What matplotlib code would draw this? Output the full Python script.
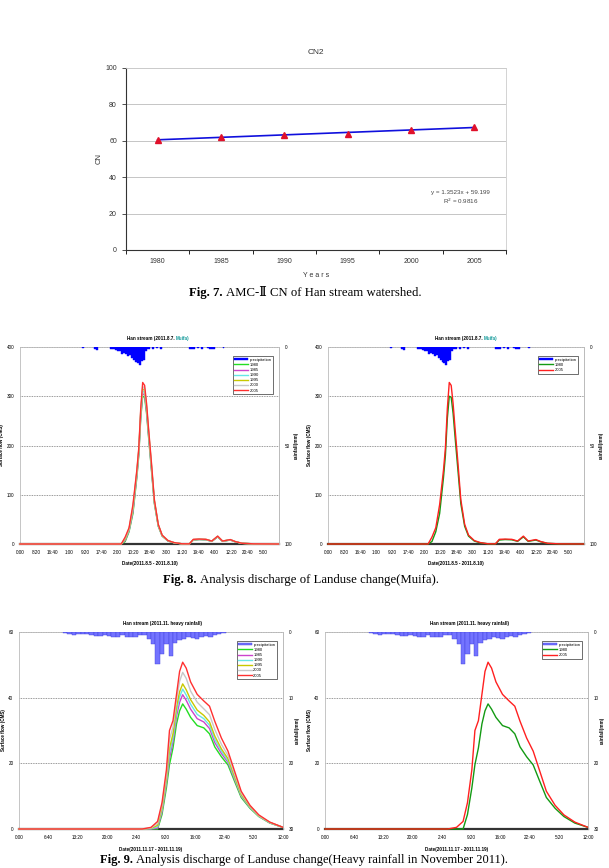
import numpy as np
import matplotlib.pyplot as plt

W, H = 609, 868

# ---- Fig. 7 : CN2 trend ----
cn_years = ["1980", "1985", "1990", "1995", "2000", "2005"]
cn_values = [60.5, 62.0, 63.3, 63.8, 66.0, 67.6]
trend_slope, trend_icpt = 1.3523, 59.199
trend_r2 = 0.9816

# ---- Fig. 8 : Muifa event (hours from 2011.8.5 0:00) ----
muifa_hours = [0, 50, 52, 54, 56, 58, 60, 61, 62, 63, 64, 65, 66, 67.5, 69, 71, 73, 76,
               79, 83, 87, 89, 92, 95.5, 98.5, 101.5, 104, 108, 110.5, 114, 120, 133]
muifa_q = {
    "1980": [0, 0, 0, 5, 25, 62, 135, 180, 255, 300, 298, 265, 218, 150, 82, 36, 16, 6,
             2.5, 0.4, 0.2, 8, 9, 8.5, 5.4, 14.5, 5.4, 8, 4.5, 1.3, 0.3, 0],
    "1985": [0, 0, 0, 7, 27, 66, 139, 184, 260, 305, 303, 270, 222, 153, 84, 37, 16.5, 6.2,
             2.6, 0.4, 0.2, 8.3, 9.2, 8.7, 5.5, 14.8, 5.5, 8.2, 4.6, 1.35, 0.3, 0],
    "1990": [0, 0, 0, 9, 28, 70, 142, 187, 264, 310, 308, 274, 226, 156, 86, 38, 17, 6.5,
             2.7, 0.4, 0.2, 8.6, 9.4, 9.0, 5.7, 15.2, 5.7, 8.5, 4.7, 1.4, 0.3, 0],
    "1995": [0, 0, 0, 10, 30, 73, 145, 190, 268, 315, 312, 277, 229, 159, 87, 38.5, 17.3, 6.7,
             2.8, 0.5, 0.3, 8.8, 9.6, 9.2, 5.8, 15.5, 5.8, 8.7, 4.8, 1.45, 0.3, 0],
    "2000": [0, 0, 0, 12, 31, 76, 147, 192, 271, 320, 316, 280, 232, 162, 88, 39, 17.6, 6.8,
             2.9, 0.5, 0.3, 9.0, 9.8, 9.3, 5.9, 15.7, 5.9, 8.8, 4.9, 1.5, 0.3, 0],
    "2005": [0, 0, 0, 14, 33, 80, 150, 195, 275, 328, 322, 285, 235, 165, 90, 40, 18, 7,
             3, 0.5, 0.3, 9.5, 10, 9.5, 6, 16, 6, 9, 5, 1.5, 0.3, 0],
}
muifa_rain_hours = [32, 38, 39, 46, 47, 48, 49, 50, 51, 52, 53, 54, 55, 56, 57, 58, 59, 60,
                    61, 62, 63, 64, 65, 66, 68, 70, 72, 87, 88, 89, 91, 93, 96, 97, 98, 99, 104]
muifa_rain_mm = [0.4, 1.2, 1.5, 0.8, 1.2, 1.0, 1.5, 2.0, 2.2, 3.5, 3.0, 3.8, 4.5, 4.2, 5.5, 6.5,
                 7.5, 8.0, 9.3, 7.0, 6.5, 2.0, 1.0, 0.8, 1.0, 0.6, 0.8, 0.8, 0.8, 0.8, 0.5, 1.0,
                 0.6, 1.0, 1.2, 1.0, 0.6]
muifa_ticks = ["0:00", "8:20", "16:40", "1:00", "9:20", "17:40", "2:00", "10:20", "18:40",
               "3:00", "11:20", "19:40", "4:00", "12:20", "20:40", "5:00"]

# ---- Fig. 9 : November heavy rainfall (hours from 2011.11.17 0:00) ----
nov_hours = [0, 28, 30, 31.5, 32.5, 33.5, 34.2, 35, 35.8, 36.5, 37.2, 38, 39, 40.5, 42,
             43.3, 44.5, 46, 47.5, 49, 50.5, 52.5, 54.5, 57, 60]
nov_q = {
    "1980": [0, 0, 0, 0, 4.4, 12.5, 19.6, 24.7, 32, 36, 38.1, 36.5, 34, 31.5, 30.8, 29, 25,
             22, 19.5, 14.5, 9.6, 6.3, 3.8, 1.8, 0.5],
    "1985": [0, 0, 0, 0.3, 5.2, 13.8, 21.5, 26.6, 34.3, 38.6, 40.9, 39.2, 36.5, 33.6, 32.6,
             30.6, 26.3, 23, 20.3, 15.1, 10, 6.5, 3.9, 1.9, 0.5],
    "1990": [0, 0, 0.1, 0.7, 5.8, 14.6, 23, 27.8, 35.8, 40.2, 42.6, 40.8, 38, 34.9, 33.6,
             31.6, 27.3, 23.7, 20.8, 15.5, 10.2, 6.6, 3.9, 1.9, 0.5],
    "1995": [0, 0, 0.2, 1.1, 6.4, 15.4, 24.6, 29, 37.2, 41.8, 44.2, 42.4, 39.4, 36.2, 34.6,
             32.6, 28.3, 24.4, 21.4, 16, 10.5, 6.8, 4.0, 2.0, 0.5],
    "2000": [0, 0, 0.3, 1.7, 7.2, 16.6, 27.3, 31, 39.2, 45, 47.7, 45.9, 42, 38.6, 36.6,
             34.8, 30.3, 25.8, 22.4, 16.8, 11, 7, 4.1, 2.0, 0.5],
    "2005": [0, 0, 0.5, 2.3, 8, 18, 30, 33, 41, 48, 50.8, 49, 44.8, 41, 39, 37.4, 32.8,
             27.7, 23.7, 17.6, 11.5, 7.2, 4.3, 2.1, 0.5],
}
nov_rain_hours = list(range(10, 47))
nov_rain_mm = [0.15, 0.3, 0.4, 0.3, 0.3, 0.3, 0.5, 0.6, 0.55, 0.5, 0.6, 0.8, 0.8, 0.4, 0.8,
               0.8, 0.8, 0.5, 0.5, 1.1, 1.8, 4.8, 3.4, 1.8, 3.6, 1.7, 1.2, 1.0, 0.8, 0.9,
               1.0, 0.8, 0.6, 0.7, 0.5, 0.3, 0.2]
nov_ticks = ["0:00", "6:40", "13:20", "20:00", "2:40", "9:20", "16:00", "22:40", "5:20", "12:00"]

year_colors = {"1980": "#22dd22", "1985": "#cc44cc", "1990": "#66e6e6",
               "1995": "#c8c800", "2000": "#c8c8c8", "2005": "#ff3030"}

SANS = "Liberation Sans"
SERIF = ["Liberation Serif", "DejaVu Serif"]

fig = plt.figure(figsize=(W / 100, H / 100), dpi=100)


def box(l, t, r, b):
    return [l / W, 1 - b / H, (r - l) / W, (b - t) / H]


# ---------------- Fig. 7 ----------------
ax = fig.add_axes(box(126, 68, 506, 250))
xc = np.arange(len(cn_years)) + 0.5
xi = np.arange(1, len(cn_years) + 1)
ax.plot(xc, [trend_slope * v + trend_icpt for v in xi], color="#1010dd", lw=1.2, zorder=3)
ax.plot(xc, cn_values, ls="none", marker="^", ms=5, color="#e0102a", zorder=4)
ax.set_xlim(0, 6)
ax.set_ylim(0, 100)
ax.set_yticks(range(0, 101, 20))
ax.set_xticks(range(0, 7))
ax.set_xticklabels([])
ax.set_xticks(xc, minor=True)
ax.set_xticklabels(cn_years, minor=True, fontsize=5, family=SANS, color="#333333")
ax.tick_params(axis="x", which="minor", length=0, pad=6)
ax.tick_params(axis="x", which="major", length=3, direction="out", width=0.6)
ax.tick_params(axis="y", labelsize=5, length=3, width=0.6, colors="#333333")
for lab in ax.get_yticklabels():
    lab.set_family(SANS)
ax.grid(axis="y", color="#bbbbbb", lw=0.6)
ax.set_axisbelow(True)
for s in ["top", "right"]:
    ax.spines[s].set_color("#cccccc")
    ax.spines[s].set_linewidth(0.6)
for s in ["left", "bottom"]:
    ax.spines[s].set_color("#333333")
    ax.spines[s].set_linewidth(0.8)
ax.set_title("CN2", fontsize=6, family=SANS, color="#333333", pad=10)
ax.set_ylabel("CN", fontsize=5.5, family=SANS, color="#333333", labelpad=2)
ax.set_xlabel("Y e a r s", fontsize=5, family=SANS, color="#333333", labelpad=5)
ax.text(0.88, 0.31, "y = %.4fx + %.3f" % (trend_slope, trend_icpt), transform=ax.transAxes,
        fontsize=4.5, family=SANS, color="#444444", ha="center")
ax.text(0.88, 0.255, "R$^2$ = %.4f" % trend_r2, transform=ax.transAxes,
        fontsize=4.5, family=SANS, color="#444444", ha="center")


# ---------------- hydrograph panels ----------------
def hydro(rect, hours, qdict, years, rain_h, rain_mm, ymax, ystep, rmax, rticks, xlim,
          tick_step, ticklabels, title, muifa, xlabel, rain_color, rain_edge, colors,
          title_x):
    ax = fig.add_axes(box(*rect))
    ax.set_xlim(0, xlim)
    ax.set_ylim(0, ymax)
    for y in years:
        ax.plot(hours, qdict[y], color=colors[y], lw=1.0, zorder=3, clip_on=False)
    ax.set_yticks(np.arange(0, ymax + 1, ystep))
    ax.set_xticks(np.arange(len(ticklabels)) * tick_step)
    ax.set_xticklabels(ticklabels)
    ax.tick_params(axis="both", labelsize=3.3, length=0, pad=4)
    for lab in ax.get_xticklabels() + ax.get_yticklabels():
        lab.set_family(SANS)
    ax.grid(axis="y", color="#777777", lw=0.6, ls=(0, (1, 1)))
    for s in ["top", "right", "left"]:
        ax.spines[s].set_color("#bbbbbb")
        ax.spines[s].set_linewidth(0.6)
    ax.spines["bottom"].set_color("#333333")
    ax.spines["bottom"].set_linewidth(1.6)
    ax.set_ylabel("Surface flow (CMS)", fontsize=3.3, family=SANS, fontweight="bold", labelpad=2)
    ax.set_xlabel(xlabel, fontsize=3.3, family=SANS, fontweight="bold", labelpad=5)
    if muifa:
        ax.text(title_x, 1.028, title, transform=ax.transAxes, ha="right", va="bottom",
                fontsize=3.3, family=SANS, fontweight="bold")
        ax.text(title_x, 1.028, muifa, transform=ax.transAxes, ha="left", va="bottom",
                fontsize=3.3, family=SANS, fontweight="bold", color="#119999")
    else:
        ax.text(title_x, 1.028, title, transform=ax.transAxes, ha="center", va="bottom",
                fontsize=3.3, family=SANS, fontweight="bold")

    rx = ax.twinx()
    rx.set_ylim(rmax, 0)
    rx.bar(rain_h, rain_mm, width=1.0, align="edge", color=rain_color,
           edgecolor=rain_edge, lw=0.3, label="precipitation")
    rx.set_yticks(rticks)
    rx.tick_params(axis="y", labelsize=3.3, length=0, pad=4)
    for lab in rx.get_yticklabels():
        lab.set_family(SANS)
    for s in ["top", "bottom", "left"]:
        rx.spines[s].set_visible(False)
    rx.spines["right"].set_color("#bbbbbb")
    rx.spines["right"].set_linewidth(0.6)
    rx.set_ylabel("rainfall(mm)", fontsize=3.3, family=SANS, fontweight="bold", labelpad=1)

    handles, labels = rx.get_legend_handles_labels()
    lines = [plt.Line2D([], [], color=colors[y], lw=1.0) for y in years]
    leg = rx.legend(handles + lines, labels + years, loc="upper right",
                    bbox_to_anchor=(0.985, 0.965), fontsize=3.0, frameon=True,
                    fancybox=False, edgecolor="black", handlelength=3.2,
                    handleheight=0.5, labelspacing=0.28, borderpad=0.4,
                    handletextpad=0.4)
    leg.get_frame().set_linewidth(0.5)
    for txt in leg.get_texts():
        txt.set_family(SANS)
    return ax


all_years = ["1980", "1985", "1990", "1995", "2000", "2005"]
two_colors = {"1980": "#139a13", "2005": "#ff2020"}

hydro((20, 347, 279, 544), muifa_hours, muifa_q, all_years, muifa_rain_hours, muifa_rain_mm,
      400, 100, 100, [0, 50, 100], 133, 500 / 60, muifa_ticks,
      "Han stream (2011.8.7. ", "Muifa)", "Date(2011.8.5 - 2011.8.10)", "#0000ff", "#0000ff",
      year_colors, 0.6)
hydro((328, 347, 584, 544), muifa_hours, muifa_q, ["1980", "2005"], muifa_rain_hours,
      muifa_rain_mm, 400, 100, 100, [0, 50, 100], 133, 500 / 60, muifa_ticks,
      "Han stream (2011.8.7. ", "Muifa)", "Date(2011.8.5 - 2011.8.10)", "#0000ff", "#0000ff",
      two_colors, 0.61)
hydro((19, 632, 283, 829), nov_hours, nov_q, all_years, nov_rain_hours, nov_rain_mm,
      60, 20, 30, [0, 10, 20, 30], 60, 400 / 60, nov_ticks,
      "Han stream (2011.11. heavy rainfall)", "", "Date(2011.11.17 - 2011.11.19)",
      "#7373ff", "#4040dd", year_colors, 0.545)
hydro((325, 632, 588, 829), nov_hours, nov_q, ["1980", "2005"], nov_rain_hours, nov_rain_mm,
      60, 20, 30, [0, 10, 20, 30], 60, 400 / 60, nov_ticks,
      "Han stream (2011.11. heavy rainfall)", "", "Date(2011.11.17 - 2011.11.19)",
      "#7373ff", "#4040dd", two_colors, 0.55)


# ---------------- captions ----------------
def caption(y, bold, rest, xc, size=9.2):
    fig.text(xc / W, 1 - y / H, bold + " ", fontsize=size, family=SERIF,
             fontweight="bold", ha="right", va="center")
    fig.text(xc / W, 1 - y / H, rest, fontsize=size, family=SERIF, ha="left", va="center")


caption(293, "Fig. 7.", "AMC-Ⅱ CN of Han stream watershed.", 226)
caption(580, "Fig. 8.", "Analysis discharge of Landuse change(Muifa).", 200)
caption(860, "Fig. 9.", "Analysis discharge of Landuse change(Heavy rainfall in November 2011).",
        136, 9.0)

fig.savefig("out.png", dpi=100)
